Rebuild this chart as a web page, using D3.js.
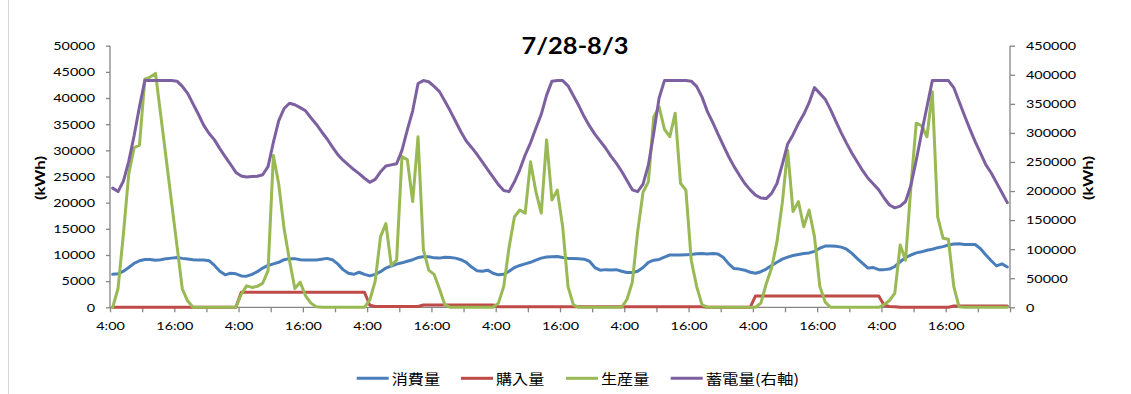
<!DOCTYPE html>
<html>
<head>
<meta charset="utf-8">
<script src="https://cdn.jsdelivr.net/npm/d3@7"></script>
<style>
  html, body { margin: 0; padding: 0; background: #fff; }
  svg { display: block; }
</style>
</head>
<body>
<svg id="chart" width="1131" height="394"></svg>
<script>
// ---- data: hourly readings from 7/28 4:00 to 8/4 3:00 ----
const chartTitle = "7/28-8/3";
const seriesNames = ["消費量", "購入量", "生産量", "蓄電量(右軸)"];
const tickLabels = ["4:00", "16:00", "4:00", "16:00", "4:00", "16:00", "4:00",
                    "16:00", "4:00", "16:00", "4:00", "16:00", "4:00", "16:00"];
const leftTicks = [0, 5000, 10000, 15000, 20000, 25000, 30000, 35000, 40000, 45000, 50000];
const rightTicks = [0, 50000, 100000, 150000, 200000, 250000, 300000, 350000, 400000, 450000];

// consumption (kWh, left axis)
const consumption = [
  6300, 6400, 6900, 7600, 8400, 8900, 9150, 9150, 9000, 9100, 9300, 9400, 9500, 9350, 9250, 9100, 9050, 9050, 8900, 8000, 6900, 6200, 6500, 6400,
  6000, 5950, 6300, 6800, 7500, 8000, 8300, 8600, 9100, 9300, 9300, 9100, 9050, 9050, 9050, 9200, 9350, 9100, 8300, 7200, 6500, 6300, 6700, 6300,
  6000, 6300, 6800, 7500, 7900, 8250, 8500, 8800, 9100, 9500, 9650, 9650, 9450, 9400, 9550, 9500, 9400, 9100, 8600, 7700, 7000, 6900, 7100, 6500,
  6200, 6300, 6900, 7600, 8000, 8300, 8600, 9000, 9400, 9600, 9650, 9700, 9500, 9350, 9350, 9300, 9200, 8800, 7600, 7100, 7200, 7150, 7200, 6900,
  6650, 6650, 6900, 7600, 8600, 9000, 9150, 9600, 10000, 10000, 10000, 10050, 10100, 10250, 10300, 10200, 10300, 10200, 9500, 8300, 7400, 7300, 7100, 6700,
  6500, 6800, 7300, 8000, 8600, 9200, 9600, 9900, 10100, 10300, 10400, 10700, 11300, 11700, 11700, 11650, 11500, 11100, 10300, 9300, 8400, 7500, 7600, 7200,
  7200, 7300, 7800, 8700, 9500, 10000, 10400, 10600, 10900, 11100, 11400, 11600, 11900, 12100, 12150, 12000, 12000, 12000, 11200, 10000, 8900, 7900, 8300, 7700
];

// purchased from the grid (kWh, left axis)
const purchase = [
  0, 0, 0, 0, 0, 0, 0, 0, 0, 0, 0, 0, 0, 0, 0, 0, 0, 0, 0, 0, 0, 0, 0, 0,
  2870, 2870, 2870, 2870, 2870, 2870, 2870, 2870, 2870, 2870, 2870, 2870, 2870, 2870, 2870, 2870, 2870, 2870, 2870, 2870, 2870, 2870, 2870, 2870,
  400, 150, 150, 150, 150, 150, 150, 150, 150, 150, 450, 450, 450, 450, 450, 450, 450, 450, 450, 450, 450, 450, 450, 450,
  100, 100, 100, 100, 100, 100, 100, 100, 100, 100, 100, 100, 100, 100, 100, 100, 100, 100, 100, 100, 100, 100, 100, 100,
  100, 100, 100, 100, 100, 100, 100, 100, 100, 100, 100, 100, 100, 100, 100, 0, 0, 0, 0, 0, 0, 0, 0, 0,
  2170, 2170, 2170, 2170, 2170, 2170, 2170, 2170, 2170, 2170, 2170, 2170, 2170, 2170, 2170, 2170, 2170, 2170, 2170, 2170, 2170, 2170, 2170, 2170,
  400, 150, 100, 0, 0, 0, 0, 0, 0, 0, 0, 0, 0, 250, 250, 250, 250, 250, 250, 250, 250, 250, 250, 250
];

// generated (kWh, left axis)
const production = [
  0, 3600, 14000, 25500, 30500, 31000, 43600, 44000, 44700, 36500, 28300, 20000, 11800, 3500, 1200, 0, 0, 0, 0, 0, 0, 0, 0, 0,
  2500, 4100, 3800, 4000, 4600, 7000, 29000, 23500, 15000, 9000, 3600, 4800, 2200, 800, 100, 0, 0, 0, 0, 0, 0, 0, 0, 0,
  1400, 5000, 13500, 16000, 8000, 9000, 28800, 28200, 20200, 32600, 11000, 7100, 6300, 3500, 500, 0, 0, 0, 0, 0, 0, 0, 0, 0,
  800, 4000, 11500, 17300, 18600, 18000, 27800, 22100, 18000, 32000, 20500, 22400, 15400, 3950, 450, 0, 0, 0, 0, 0, 0, 0, 0, 0,
  1500, 4800, 14500, 22000, 24000, 36400, 38300, 34000, 32600, 37100, 23700, 22400, 9000, 4000, 500, 0, 0, 0, 0, 0, 0, 0, 0, 0,
  0, 800, 4500, 7500, 12500, 20000, 30000, 18300, 20200, 15400, 18600, 13500, 4000, 1000, 0, 0, 0, 0, 0, 0, 0, 0, 0, 0,
  500, 1300, 2700, 11900, 9000, 23000, 35200, 34700, 32600, 41200, 17300, 13200, 13000, 4000, 100, 0, 0, 0, 0, 0, 0, 0, 0, 0
];

// battery storage level (kWh, right axis)
const storage = [
  205000, 199000, 217000, 251000, 295000, 345000, 390000, 390000, 390000, 390000, 390000, 390000, 389000, 380000, 368000, 350000, 332000, 313000, 299000, 288000, 273000, 259000, 246000, 232000,
  226000, 224000, 225000, 225500, 228000, 242000, 284000, 321000, 342000, 351000, 348500, 343500, 338000, 326000, 315000, 302000, 290000, 276000, 263000, 253000, 245000, 237000, 230000, 222000,
  215000, 220000, 233000, 243000, 245000, 247000, 270000, 305000, 338000, 385000, 390000, 388000, 380000, 371000, 355000, 338000, 320000, 302000, 286000, 275000, 263000, 250000, 237000, 224000,
  211000, 201000, 199000, 216000, 237000, 262000, 283000, 308000, 332000, 365000, 389000, 390000, 390000, 381000, 364000, 347000, 328000, 312000, 298000, 286000, 274000, 260000, 248000, 234000,
  218000, 202000, 199000, 212000, 245000, 300000, 360000, 390000, 390000, 390000, 390000, 390000, 389000, 380000, 362000, 337000, 318000, 298000, 278000, 259000, 242000, 227000, 213000, 202000,
  193000, 188000, 187000, 196000, 213000, 246000, 281000, 297000, 316000, 332000, 352000, 378000, 368000, 358000, 340000, 320000, 300000, 282000, 265000, 250000, 235000, 222000, 212000, 202000,
  188000, 176000, 171000, 174000, 182000, 210000, 253000, 300000, 345000, 390000, 390000, 390000, 390000, 378000, 354000, 330000, 307000, 285000, 265000, 245000, 231000, 214000, 197000, 180000
];

const colors = ["#4A7EBB", "#BE4B48", "#98B954", "#7D60A0"];

function draw() {
  const svg = d3.select("#chart");
  const W = 1131, H = 394;
  const plot = { left: 110, right: 1010, top: 45.7, bottom: 307.3 };
  const latin = "Lato, 'Liberation Sans', sans-serif";
  const cjk = "'Noto Sans CJK JP', 'Noto Sans CJK SC', sans-serif";

  svg.append("rect").attr("width", W).attr("height", H).attr("fill", "#fff");
  // chart-area frame edge
  svg.append("line").attr("x1", 8.5).attr("x2", 8.5).attr("y1", 0).attr("y2", H)
    .attr("stroke", "#d9d9d9").attr("stroke-width", 1);

  // horizontal text stretch to the Excel-like wide glyphs
  function stretch(sel, k) {
    sel.each(function () {
      const w = this.getComputedTextLength();
      d3.select(this).attr("textLength", w * k).attr("lengthAdjust", "spacingAndGlyphs");
    });
  }
  function fitTo(sel, width) {
    sel.attr("textLength", width).attr("lengthAdjust", "spacingAndGlyphs");
  }

  const n = consumption.length; // 168 hourly categories
  const x = d3.scaleLinear().domain([0, n]).range([plot.left, plot.right]);
  const yL = d3.scaleLinear().domain([0, 50000]).range([plot.bottom, plot.top]);
  const yR = d3.scaleLinear().domain([0, 450000]).range([plot.bottom, plot.top]);

  // ---- axes ----
  const axisColor = "#868686";
  const gL = svg.append("g").attr("transform", `translate(${plot.left},0)`)
    .call(d3.axisLeft(yL).tickValues(leftTicks).tickFormat(d3.format("d")).tickSize(4).tickPadding(11));
  const gR = svg.append("g").attr("transform", `translate(${plot.right},0)`)
    .call(d3.axisRight(yR).tickValues(rightTicks).tickFormat(d3.format("d")).tickSize(5).tickPadding(11));
  const tickIdx = d3.range(0, n + 1, 6);
  const gB = svg.append("g").attr("transform", `translate(0,${plot.bottom})`)
    .call(d3.axisBottom(x).tickValues(tickIdx)
      .tickFormat(d => (d % 12 === 0 && d / 12 < tickLabels.length) ? tickLabels[d / 12] : "")
      .tickSize(5).tickPadding(9));

  [gL, gR, gB].forEach(g => {
    g.select(".domain").attr("stroke", axisColor).attr("stroke-width", 1.3);
    g.selectAll(".tick line").attr("stroke", axisColor).attr("stroke-width", 1.3);
    g.selectAll(".tick text").attr("fill", "#000").style("font-family", latin).style("font-size", "12px");
  });
  gB.select(".domain").attr("d", `M${plot.left},0H${plot.right}`);
  gL.select(".domain").attr("d", `M0,${plot.top}V${plot.bottom}`);
  gR.select(".domain").attr("d", `M0,${plot.top}V${plot.bottom}`);

  stretch(gL.selectAll(".tick text"), 1.2);
  stretch(gR.selectAll(".tick text"), 1.2);
  stretch(gB.selectAll(".tick text"), 1.2);

  // ---- series ----
  const lineL = d3.line().x((d, i) => x(i + 0.5)).y(d => yL(d));
  const lineR = d3.line().x((d, i) => x(i + 0.5)).y(d => yR(d));
  const series = [
    { values: consumption, line: lineL, color: colors[0] },
    { values: purchase, line: lineL, color: colors[1] },
    { values: production, line: lineL, color: colors[2] },
    { values: storage, line: lineR, color: colors[3] }
  ];
  svg.append("g").selectAll("path").data(series).join("path")
    .attr("d", s => s.line(s.values))
    .attr("fill", "none")
    .attr("stroke", s => s.color)
    .attr("stroke-width", 3)
    .attr("stroke-linejoin", "round")
    .attr("stroke-linecap", "round");

  // ---- title & axis titles ----
  svg.append("text").attr("x", 575).attr("y", 53.5).attr("text-anchor", "middle")
    .style("font-family", latin).style("font-size", "23px").style("font-weight", "bold")
    .text(chartTitle).call(fitTo, 107);

  svg.append("text").attr("transform", "translate(45,178) rotate(-90)").attr("text-anchor", "middle")
    .style("font-family", latin).style("font-size", "13px").style("font-weight", "bold")
    .text("(kWh)").call(fitTo, 44);
  svg.append("text").attr("transform", "translate(1093,178) rotate(-90)").attr("text-anchor", "middle")
    .style("font-family", latin).style("font-size", "13px").style("font-weight", "bold")
    .text("(kWh)").call(fitTo, 44);

  // ---- legend ----
  const legendX = [356.7, 461, 566, 670.7];
  const legendW = [48.3, 48.3, 48.3, 93.3];
  const ly = 378.3;
  const lg = svg.append("g").selectAll("g").data(seriesNames).join("g");
  lg.append("line")
    .attr("x1", (d, i) => legendX[i]).attr("x2", (d, i) => legendX[i] + 32)
    .attr("y1", ly).attr("y2", ly)
    .attr("stroke", (d, i) => colors[i]).attr("stroke-width", 3);
  lg.append("text")
    .attr("x", (d, i) => legendX[i] + 35).attr("y", ly)
    .attr("dominant-baseline", "central")
    .style("font-family", cjk).style("font-size", "14px").attr("fill", "#000")
    .text(d => d)
    .each(function (d, i) { d3.select(this).call(fitTo, legendW[i]); });
}

if (document.fonts && document.fonts.ready) {
  document.fonts.ready.then(draw);
} else {
  draw();
}
</script>
</body>
</html>
